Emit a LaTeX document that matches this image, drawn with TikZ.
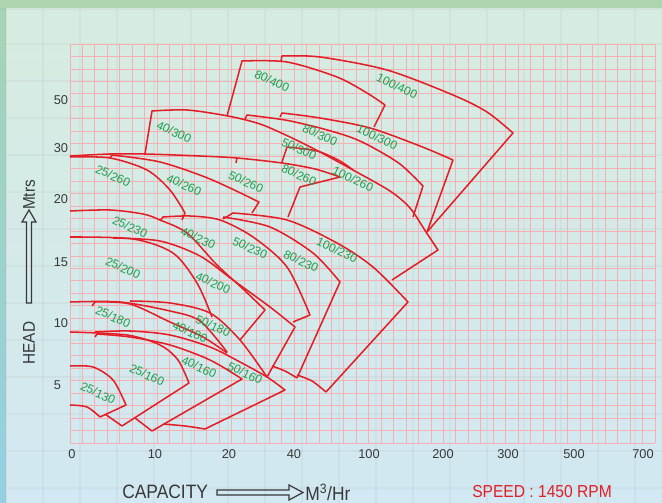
\documentclass[tikz,border=0pt]{standalone}
\usepackage{fontspec}
\setmainfont{Liberation Sans}
\newfontfamily\narrowsans[FakeStretch=0.9]{Liberation Sans}
\usetikzlibrary{positioning}

\definecolor{bandgreen}{HTML}{ACD5B0}
\definecolor{striptop}{HTML}{A6D4B6}
\definecolor{stripbottom}{HTML}{95CFE2}
\definecolor{paneltop}{HTML}{D7ECE0}
\definecolor{panelbottom}{HTML}{D2E8F2}
\definecolor{gridpink}{HTML}{F6B0B3}
\definecolor{pumpred}{HTML}{E31E26}
\definecolor{tilegreen}{HTML}{1D9F4E}
\definecolor{tickgray}{HTML}{383838}

\tikzset{
  gridline/.style={draw=gridpink, line width=0.65pt},
  faintline/.style={draw=gray, opacity=0.07, line width=0.8pt},
  curve/.style={draw=pumpred, line width=1.15pt, line join=round},
  tag/.style={text=tilegreen, font=\fontsize{9}{10}\selectfont, rotate=-25, inner sep=0pt},
  tick/.style={text=tickgray, font=\fontsize{9.6}{10}\selectfont, inner sep=0pt},
  axislabel/.style={text=tickgray, font=\narrowsans\fontsize{14.5}{15}\selectfont, inner sep=0pt},
  outlinearrow/.style={draw=tickgray, line width=0.9pt, line join=miter},
}

\begin{document}
\begin{tikzpicture}[x=0.75pt, y=-0.75pt]
  \useasboundingbox (0,0) rectangle (662,503);

  % background
  \fill[bandgreen] (0,0) rectangle (662,9);
  \shade[top color=striptop, bottom color=stripbottom] (0,9) rectangle (6,503);
  \shade[top color=paneltop, bottom color=panelbottom] (6,9) rectangle (662,503);
  \draw[faintline] (0,9) -- (662,9);
  \foreach \x in {6,43,...,662} \draw[faintline] (\x,9) -- (\x,503);
  \foreach \y in {44,81,...,503} \draw[faintline] (6,\y) -- (662,\y);

  % chart grid
  \foreach \i in {0,...,47} \draw[gridline] ({70+\i*12.447},44) -- ({70+\i*12.447},443);
  \foreach \j in {0,...,32} \draw[gridline] (70,{44+\j*12.47}) -- (655,{44+\j*12.47});

  % 400 and 300 tiles
  \draw[curve] (281,61) -- plot[smooth] coordinates {(282,56) (320,57) (387,70) (453,95) (487,112) (513,133)} -- (427,232);
  \draw[curve] (227,116) -- plot[smooth] coordinates {(242,61) (287,62) (337,77) (367,93) (385,105)} -- (374,127);
  \draw[curve] (280,117) -- plot[smooth] coordinates {(282,113) (320,118) (370,128) (420,146) (453,160)} -- (427,232);
  \draw[curve] (145,154) -- plot[smooth] coordinates {(152,111) (187,110) (228,116) (260,124) (290,137) (320,152) (353,170) (390,191) (410,208) (426,232) (438,250)} -- (392,280);
  \draw[curve] (245,119) -- plot[smooth] coordinates {(247,115) (285,120) (320,128) (350,137) (370,146) (400,164) (423,186)} -- (413,217);
  \draw[curve] (282,162) -- plot[smooth] coordinates {(287,147) (317,151) (340,161) (353,170)};

  % 260 tiles
  \draw[curve] plot[smooth] coordinates {(70,156) (110,154) (145,154) (200,156) (237,158) (282,163) (315,169) (340,177)} -- (300,187) -- (288,217);
  \draw[curve] plot[smooth] coordinates {(70,157) (110,158) (147,170) (170,190) (185,213)} -- (182,220);
  \draw[curve] (110,158) -- plot[smooth] coordinates {(112,155) (160,162) (210,179) (259,202)} -- (252,213);
  \draw[curve] (236,163) -- (237,158);

  % 230 and 200 tiles
  \draw[curve] plot[smooth] coordinates {(70,211) (110,210) (143,214) (160,220) (187,233) (217,265) (242,288) (265,310)} -- (240,340);
  \draw[curve] (160,221) -- plot[smooth] coordinates {(163,217) (190,216) (220,220) (253,237) (287,267) (310,315)} -- (293,322);
  \draw[curve] plot[smooth] coordinates {(223,217) (270,227) (313,253) (340,282)} -- (297,378);
  \draw[curve] plot[smooth] coordinates {(272,366) (285,371) (297,378)};
  \draw[curve] (223,219) -- plot[smooth] coordinates {(233,213) (287,220) (337,243) (373,267) (408,302)} -- (326,392);
  \draw[curve] plot[smooth] coordinates {(297,375) (312,381) (326,392)};
  \draw[curve] plot[smooth] coordinates {(70,237) (133,239) (173,253) (197,283) (212,317)};
  \draw[curve] plot[smooth] coordinates {(113,238) (160,241) (200,256) (233,280) (270,307) (295,327)} -- (267,377);

  % 180, 160 and 130 tiles
  \draw[curve] plot[smooth] coordinates {(70,302) (120,302) (170,311) (200,321) (227,352)};
  \draw[curve] (92,306) -- plot[smooth] coordinates {(95,302) (130,304) (170,322) (203,337) (227,353)};
  \draw[curve] plot[smooth] coordinates {(130,301) (170,303) (210,313) (240,340) (267,377)};
  \draw[curve] plot[smooth] coordinates {(95,332) (130,331) (170,335) (210,347) (240,362) (267,377) (285,390)} -- (205,429);
  \draw[curve] plot[smooth] coordinates {(163,424) (185,426) (205,429)};
  \draw[curve] (95,337) -- plot[smooth] coordinates {(97,334) (130,337) (170,345) (210,360) (242,379)} -- (152,431);
  \draw[curve] (135,418) -- (152,431);
  \draw[curve] plot[smooth] coordinates {(70,332) (127,335) (160,345) (178,360) (189,383)} -- (122,426);
  \draw[curve] (105,414) -- (122,426);
  \draw[curve] plot[smooth] coordinates {(70,366) (93,367) (113,380) (126,405)} -- (100,417);
  \draw[curve] plot[smooth] coordinates {(70,405) (87,407) (100,417)};

  % tile names
  \foreach \x/\y/\a/\b in {272/81/80/400, 397/86/100/400, 174/132/40/300,
      320/135/80/300, 299/149/50/300, 377/137/100/300,
      113/176/25/260, 184/185/40/260, 246/182/50/260, 299/175/80/260, 353/179/100/260,
      130/227/25/230, 198/238/40/230, 250/248/50/230, 301/261/80/230, 337/250/100/230,
      123/268/25/200, 213/283/40/200,
      113/317/25/180, 190/332/40/180, 213/326/50/180,
      147/375/25/160, 199/367/40/160, 245/373/50/160, 98/393/25/130}
    \node[tag] (t-\a-\b) at (\x,\y) {\a/\b};

  % scales
  \foreach \y/\v in {100/50, 148/30, 199/20, 262/15, 323/10}
    \node[tick] (h-\v) at (61,\y) {\v};
  \node[tick] (h-5) at (57.5,385) {5};
  \foreach \x/\v in {72/0, 155/10, 229/20, 294/40, 369/100, 443/200, 508/300, 574/500, 643/700}
    \node[tick] (q-\v) at (\x,454) {\v};

  % axis titles
  \node[axislabel, rotate=90, font=\narrowsans\fontsize{12.8}{13}\selectfont] (head) at (29,343) {HEAD};
  \node[axislabel, rotate=90, font=\narrowsans\fontsize{12.8}{13}\selectfont] (mtrs) at (29,195) {Mtrs};
  \draw[outlinearrow] (26.5,303) -- (26.5,222) -- (22,222) -- (29,210) -- (36,222) -- (31.5,222) -- (31.5,303) -- cycle;
  \node[axislabel, anchor=west] (capacity) at (122,492) {CAPACITY};
  \draw[outlinearrow] (217,490) -- (289,490) -- (289,485) -- (303,492.5) -- (289,500) -- (289,495) -- (217,495) -- cycle;
  \node[axislabel, anchor=west] (unit) at (305,492) {M\textsuperscript{3}/Hr};
  \node[axislabel, anchor=west, text=pumpred, font=\narrowsans\fontsize{13}{14}\selectfont] (speed) at (472,492) {SPEED : 1450 RPM};
\end{tikzpicture}
\end{document}
